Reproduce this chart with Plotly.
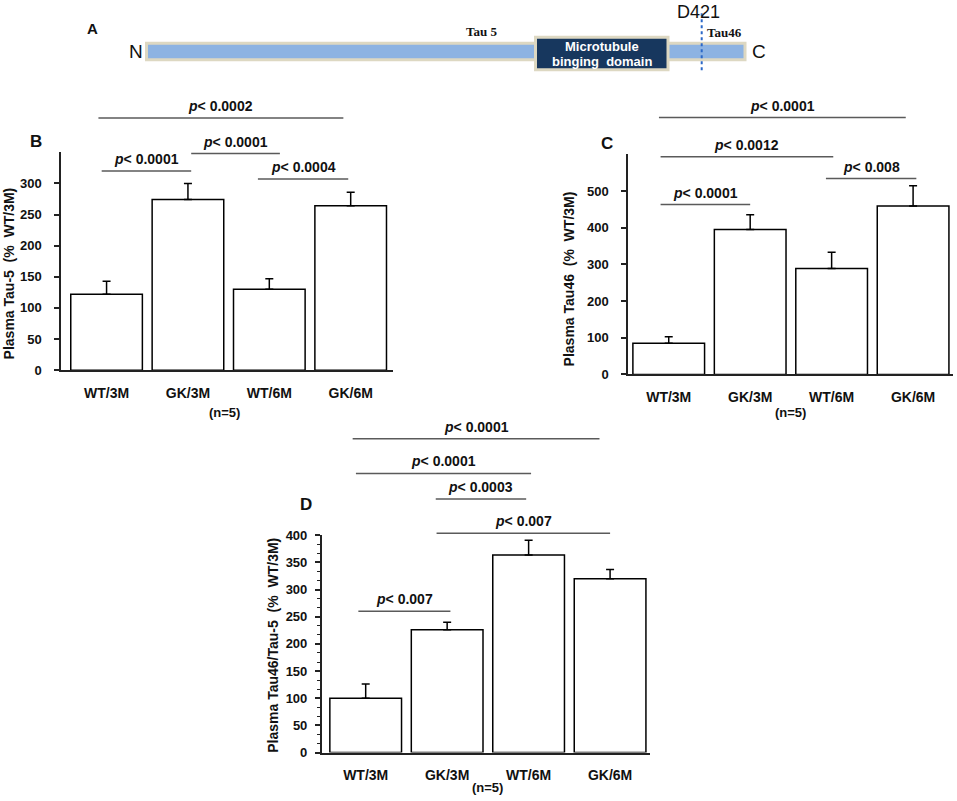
import plotly.graph_objects as go

W, H = 957, 801

# ---------------- data ----------------
categories = ["WT/3M", "GK/3M", "WT/6M", "GK/6M"]

tau5_mean = [122, 274, 130, 264]
tau5_err = [21, 26, 17, 22]

tau46_mean = [85, 395, 289, 459]
tau46_err = [18, 40, 44, 55]

ratio_mean = [100, 226, 364, 320]
ratio_err = [26, 14, 27, 17]

tau5_ticks = [0, 50, 100, 150, 200, 250, 300]
tau46_ticks = [0, 100, 200, 300, 400, 500]
ratio_ticks = [0, 50, 100, 150, 200, 250, 300, 350, 400]

# significance labels and the height (data units) of each bracket
tau5_sig_labels = ["0.0001", "0.0001", "0.0004", "0.0002"]
tau5_sig_heights = [320, 348, 307, 405]
tau46_sig_labels = ["0.0001", "0.0012", "0.008", "0.0001"]
tau46_sig_heights = [463, 593, 534, 700]
ratio_sig_labels = ["0.007", "0.007", "0.0003", "0.0001", "0.0001"]
ratio_sig_heights = [260, 404, 467, 514, 578]

# ---------------- layout geometry ----------------
tau5_spans = [(-0.06, 1.04), (1.04, 2.13), (1.86, 2.97), (-0.10, 2.91)]
tau46_spans = [(-0.10, 1.00), (-0.10, 2.02), (1.93, 3.04), (-0.12, 2.91)]
ratio_spans = [(-0.09, 1.04), (0.87, 3.00), (0.86, 1.97), (-0.12, 2.03), (-0.16, 2.87)]

FONT = "Liberation Sans, Arial, sans-serif"
NARROW = "Liberation Sans Narrow, Arial Narrow, Liberation Sans, Arial, sans-serif"
SERIF = "Liberation Serif, Times New Roman, serif"

# page photo maps figure rows slightly (measured); compensate vertical placement
VSCALE = 0.9804
VOFF = 8.0


def px(x):
    return x / W


def py(y):
    return 1 - (y / VSCALE - VOFF) / H


panels = [
    dict(ax="", mean=tau5_mean, err=tau5_err, ticks=tau5_ticks, ymax=350,
         xdom=(61, 393), ydom=(370.7, 153), xr=(-0.56, 3.52),
         labels=tau5_sig_labels, heights=tau5_sig_heights, spans=tau5_spans,
         title="Plasma Tau-5\u00a0\u00a0(%\u00a0\u00a0WT/3M)", tpos=(9, 274),
         letter="B", lpos=(36, 142), npos=1.45, nrow=413, standoff=10, minor=False),
    dict(ax="2", mean=tau46_mean, err=tau46_err, ticks=tau46_ticks, ymax=600,
         xdom=(628, 953), ydom=(375, 155), xr=(-0.50, 3.49),
         labels=tau46_sig_labels, heights=tau46_sig_heights, spans=tau46_spans,
         title="Plasma Tau46\u00a0\u00a0(%\u00a0\u00a0WT/3M)", tpos=(569, 280),
         letter="C", lpos=(607, 144), npos=1.5, nrow=413, standoff=10, minor=False),
    dict(ax="3", mean=ratio_mean, err=ratio_err, ticks=ratio_ticks, ymax=400,
         xdom=(321.7, 650), ydom=(752.7, 535.7), xr=(-0.54, 3.49),
         labels=ratio_sig_labels, heights=ratio_sig_heights, spans=ratio_spans,
         title="Plasma Tau46/Tau-5\u00a0\u00a0(%\u00a0\u00a0WT/3M)", tpos=(273, 646),
         letter="D", lpos=(306, 505), npos=1.5, nrow=788, standoff=5, minor=True),
]

fig = go.Figure()
shapes = []
annotations = []
layout_axes = {}


def note(x, y, text, font, xref="paper", yref="paper", **kw):
    d = dict(xref=xref, yref=yref, x=x, y=y, text=text, showarrow=False,
             xanchor="center", yanchor="middle", font=font)
    d.update(kw)
    annotations.append(d)


for p in panels:
    xa = "x" + p["ax"]
    ya = "y" + p["ax"]
    fig.add_trace(go.Bar(
        x=categories, y=p["mean"], xaxis=xa, yaxis=ya, width=0.88,
        marker=dict(color="white", line=dict(color="black", width=1.5)),
        error_y=dict(type="data", symmetric=False, array=p["err"],
                     arrayminus=[0] * len(p["err"]), color="black",
                     thickness=1.5, width=4),
        showlegend=False, hoverinfo="skip",
    ))
    xr = p["xr"]
    layout_axes["xaxis" + p["ax"]] = dict(
        domain=[px(p["xdom"][0]), px(p["xdom"][1])], range=list(xr),
        anchor=ya, showline=True, linecolor="#222", linewidth=1.5,
        ticks="", showgrid=False, zeroline=False, fixedrange=True,
        tickfont=dict(family=FONT, size=14, color="#111", weight="bold"),
        ticklabelstandoff=9,
    )
    yax = dict(
        domain=[py(p["ydom"][0]), py(p["ydom"][1])], range=[0, p["ymax"]],
        anchor=xa, showline=True, linecolor="#222", linewidth=1.5,
        ticks="outside", ticklen=5, tickwidth=1.5, tickcolor="#222",
        tickvals=p["ticks"], showgrid=False, zeroline=False,
        tickfont=dict(family=NARROW, size=13, color="#111", weight="bold"),
        ticklabelstandoff=p["standoff"],
    )
    if p["minor"]:
        yax["minor"] = dict(dtick=50 / 3, tick0=0, ticks="outside", ticklen=3,
                            tickwidth=1, tickcolor="#222", showgrid=False)
    layout_axes["yaxis" + p["ax"]] = yax

    def xf(c, xr=xr):
        return (c - xr[0]) / (xr[1] - xr[0])

    for lab, h, (c0, c1) in zip(p["labels"], p["heights"], p["spans"]):
        yfrac = h / p["ymax"]
        shapes.append(dict(type="line", xref=xa + " domain", yref=ya + " domain",
                           x0=xf(c0), x1=xf(c1), y0=yfrac, y1=yfrac,
                           line=dict(color="#5a5a5a", width=1.5)))
        note(xf((c0 + c1) / 2), yfrac, "<b><i>p</i>&lt; " + lab + "</b>",
             dict(family=FONT, size=14, color="#111"),
             xref=xa + " domain", yref=ya + " domain", yanchor="bottom", yshift=2)
    # (n=5)
    note(xf(p["npos"]), py(p["nrow"]), "<b>(n=5)</b>",
         dict(family=FONT, size=13, color="#111"), xref=xa + " domain")
    # y title
    note(px(p["tpos"][0]), py(p["tpos"][1]), "<b>" + p["title"] + "</b>",
         dict(family=NARROW, size=14, color="#111"), textangle=-90)
    # panel letter
    note(px(p["lpos"][0]), py(p["lpos"][1]), "<b>" + p["letter"] + "</b>",
         dict(family=FONT, size=17, color="#111"))

# ---------------- panel A schematic ----------------
BLUE = "#8db3e2"
BEIGE = "#ddd8c2"
NAVY = "#17375e"
shapes.append(dict(type="rect", xref="paper", yref="paper",
                   x0=px(146.5), x1=px(745), y0=py(60.5), y1=py(44),
                   fillcolor=BLUE, line=dict(color=BEIGE, width=3)))
shapes.append(dict(type="rect", xref="paper", yref="paper",
                   x0=px(535.5), x1=px(668), y0=py(70.5), y1=py(38),
                   fillcolor=NAVY, line=dict(color=BEIGE, width=3)))
shapes.append(dict(type="line", xref="paper", yref="paper",
                   x0=px(701.7), x1=px(701.7), y0=py(71), y1=py(14),
                   line=dict(color="#2b68c8", width=2, dash="dot")))

a_texts = [
    ("A", 92, 29, FONT, 15, "#111", True),
    ("N", 136, 52, FONT, 19, "#111", False),
    ("C", 758.5, 52, FONT, 19, "#111", False),
    ("Tau 5", 481, 32, SERIF, 13, "#111", True),
    ("Tau46", 724, 33, SERIF, 13, "#111", True),
    ("D421", 698, 13, FONT, 18, "#111", False),
    ("Microtubule", 601.5, 47, FONT, 13, "white", True),
    ("binging\u00a0\u00a0domain", 601.5, 62, FONT, 13, "white", True),
]
for t, x, y, fam, sz, col, bold in a_texts:
    note(px(x), py(y), ("<b>" + t + "</b>") if bold else t,
         dict(family=fam, size=sz, color=col))

fig.update_layout(
    width=W, height=H, margin=dict(l=0, r=0, t=0, b=0, pad=0),
    paper_bgcolor="white", plot_bgcolor="white",
    shapes=shapes, annotations=annotations, bargap=0.12,
    **layout_axes,
)

fig.write_html("out.html", config={"displayModeBar": False},
               post_script="document.body.style.margin='0';"
                           "document.documentElement.style.overflow='hidden';"
                           "document.body.style.overflow='hidden';")
